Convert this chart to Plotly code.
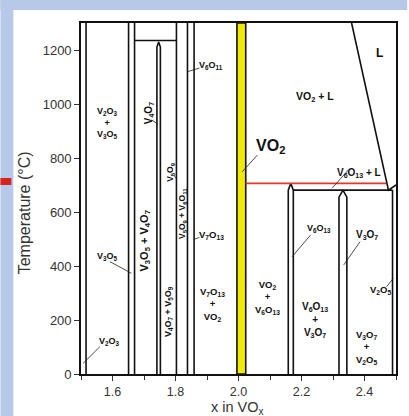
import plotly.graph_objects as go

# ---------------- data (composition x in VOx, temperature in °C) ----------------
x_range = [1.5, 2.5]
t_range = [0, 1300]
x_tickvals = [1.6, 1.8, 2.0, 2.2, 2.4]
t_tickvals = [0, 200, 400, 600, 800, 1000, 1200]

# full-height single-phase boundary lines
full_lines_x = [1.516, 1.651, 1.670, 1.803, 1.838, 1.859]

# line compounds with pointed tops: left x, right x, shoulder T, apex T
spike_names = ["V4O7", "V6O13", "V3O7"]
spike_left = [1.741, 2.158, 2.319]
spike_right = [1.752, 2.174, 2.344]
spike_shoulder = [1211, 681, 655]
spike_apex = [1230, 706, 681]

# horizontal invariant lines: x start, x end, T
hline_x0 = [1.670, 2.174]
hline_x1 = [1.803, 2.489]
hline_t = [1235, 681]

# peritectic (red) line
red_x = [2.023, 2.469]
red_t = [706, 706]

# liquidus
liq_x = [2.359, 2.476, 2.500]
liq_t = [1300, 681, 700]

# V2O5 solvus line
v2o5_x = [2.489, 2.489]
v2o5_t = [0, 681]

# VO2 single phase band
vo2_band = [1.995, 2.023]

# labels: text, x, T, angle, size
label_text = [
    "L", "VO<sub>2</sub> + L", "VO<sub>2</sub>", "V<sub>6</sub>O<sub>13</sub> + L",
    "V<sub>2</sub>O<sub>3</sub><br>+<br>V<sub>3</sub>O<sub>5</sub>",
    "V<sub>3</sub>O<sub>5</sub>", "V<sub>2</sub>O<sub>3</sub>",
    "V<sub>4</sub>O<sub>7</sub>", "V<sub>3</sub>O<sub>5</sub> + V<sub>4</sub>O<sub>7</sub>",
    "V<sub>5</sub>O<sub>9</sub>", "V<sub>5</sub>O<sub>9</sub> + V<sub>6</sub>O<sub>11</sub>",
    "V<sub>4</sub>O<sub>7</sub> + V<sub>5</sub>O<sub>9</sub>",
    "V<sub>6</sub>O<sub>11</sub>", "V<sub>7</sub>O<sub>13</sub>",
    "V<sub>7</sub>O<sub>13</sub><br>+<br>VO<sub>2</sub>",
    "VO<sub>2</sub><br>+<br>V<sub>6</sub>O<sub>13</sub>",
    "V<sub>6</sub>O<sub>13</sub>", "V<sub>3</sub>O<sub>7</sub>",
    "V<sub>6</sub>O<sub>13</sub><br>+<br>V<sub>3</sub>O<sub>7</sub>",
    "V<sub>2</sub>O<sub>5</sub>",
    "V<sub>3</sub>O<sub>7</sub><br>+<br>V<sub>2</sub>O<sub>5</sub>",
]
label_x = [2.449, 2.244, 2.102, 2.381, 1.585, 1.585, 1.592, 1.716, 1.702, 1.786,
           1.8205, 1.776, 1.913, 1.913, 1.918, 2.091, 2.255, 2.407, 2.244, 2.4495, 2.407]
label_t = [1188, 1027, 842, 743, 930, 434, 120, 966, 493, 749,
           596, 233, 1144, 515, 256, 285, 540, 515, 200, 311, 100]
label_angle = [0, 0, 0, 0, 0, 0, 0, -90, -90, -90, -90, -90, 0, 0, 0, 0, 0, 0, 0, 0, 0]
label_size = [12, 10.5, 16, 10, 9, 9, 9, 10, 11, 8.5, 8.5, 9, 9, 9.5, 9.5, 9.5, 9, 10, 10, 9.5, 9.5]

# pointer lines: (x0, T0) -> (x1, T1)
ptr_x0 = [1.592, 1.560, 1.724, 1.794, 1.876, 1.876, 2.060, 2.349, 2.229, 2.386, 2.470]
ptr_t0 = [416, 101, 941, 737, 1133, 506, 811, 756, 515, 490, 323]
ptr_x1 = [1.660, 1.507, 1.744, 1.804, 1.839, 1.860, 2.012, 2.297, 2.170, 2.334, 2.491]
ptr_t1 = [373, 40, 926, 722, 1120, 499, 749, 688, 434, 404, 354]

# ---------------- figure ----------------
BLACK = "#111111"
LW = 1.6
FONT = "Liberation Sans, Arial"
fig = go.Figure()

# VO2 band
fig.add_trace(go.Scatter(
    x=[vo2_band[0], vo2_band[1], vo2_band[1], vo2_band[0], vo2_band[0]],
    y=[t_range[0], t_range[0], t_range[1], t_range[1], t_range[0]],
    mode="lines", fill="toself", fillcolor="#f2e800",
    line=dict(color=BLACK, width=LW), hoverinfo="skip", showlegend=False))

# full-height lines, invariant lines, solvus and liquidus
xs, ys = [], []
for xv in full_lines_x:
    xs += [xv, xv, None]
    ys += [t_range[0], t_range[1], None]
for a, b, t in zip(hline_x0, hline_x1, hline_t):
    xs += [a, b, None]
    ys += [t, t, None]
xs += v2o5_x + [None]
ys += v2o5_t + [None]
xs += liq_x + [None]
ys += liq_t + [None]
fig.add_trace(go.Scatter(x=xs, y=ys, mode="lines", line=dict(color=BLACK, width=LW),
                         hoverinfo="skip", showlegend=False))

# spikes (line compounds with congruent tops)
for l, r, s, a in zip(spike_left, spike_right, spike_shoulder, spike_apex):
    fig.add_trace(go.Scatter(
        x=[l, l, (l + r) / 2, r, r], y=[0, s, a, s, 0], mode="lines",
        fill="toself", fillcolor="white",
        line=dict(color=BLACK, width=LW), hoverinfo="skip", showlegend=False))

# red line
fig.add_trace(go.Scatter(x=red_x, y=red_t, mode="lines", line=dict(color="#e8322a", width=1.6),
                         hoverinfo="skip", showlegend=False))

# pointers
px, pt = [], []
for a, b, c, d in zip(ptr_x0, ptr_t0, ptr_x1, ptr_t1):
    px += [a, c, None]
    pt += [b, d, None]
fig.add_trace(go.Scatter(x=px, y=pt, mode="lines", line=dict(color="#222", width=0.8),
                         hoverinfo="skip", showlegend=False))

for txt, xv, tv, ang, sz in zip(label_text, label_x, label_t, label_angle, label_size):
    fig.add_annotation(x=xv, y=tv, text="<b>" + txt + "</b>", showarrow=False,
                       textangle=ang, xanchor="center", yanchor="middle",
                       font=dict(family=FONT, size=sz, color="#111"))


def pxx(p):
    return (p - 81) / 316.7


def pxy(p):
    return 1 - (p - 23) / 351


# axis titles
fig.add_annotation(x=pxx(24), y=pxy(213), xref="paper", yref="paper",
                   text="Temperature (°C)", textangle=-90, showarrow=False,
                   xanchor="center", yanchor="middle",
                   font=dict(family=FONT, size=16, color="#333"))
fig.add_annotation(x=pxx(238), y=pxy(407.5), xref="paper", yref="paper",
                   text="x in VO<sub>x</sub>", showarrow=False, borderpad=0,
                   xanchor="center", yanchor="middle",
                   font=dict(family=FONT, size=14.5, color="#333"))

# slide background decorations
fig.add_shape(type="rect", xref="paper", yref="paper", x0=pxx(0), x1=pxx(13), y0=pxy(416), y1=pxy(0),
              fillcolor="#b7c9e8", line=dict(width=0), layer="below")
fig.add_shape(type="rect", xref="paper", yref="paper", x0=pxx(0), x1=pxx(409), y0=pxy(10), y1=pxy(0),
              fillcolor="#b7c9e8", line=dict(width=0), layer="below")
fig.add_shape(type="rect", xref="paper", yref="paper", x0=pxx(0), x1=pxx(11), y0=pxy(185), y1=pxy(178),
              fillcolor="#d8201c", line=dict(width=0), layer="below")

axis_common = dict(showgrid=False, zeroline=False, showline=True, mirror=True,
                   linecolor=BLACK, linewidth=LW, ticks="outside", ticklen=5,
                   tickcolor="#333")
fig.update_xaxes(range=x_range, tickvals=x_tickvals, tickformat=".1f",
                 tickfont=dict(family=FONT, size=12.5, color="#333"),
                 minor=dict(dtick=0.1, tick0=1.5, ticks="outside", ticklen=4, tickcolor="#333"),
                 **axis_common)
fig.update_yaxes(range=t_range, tickvals=t_tickvals,
                 tickfont=dict(family=FONT, size=13, color="#333"), **axis_common)

fig.update_layout(width=409, height=416, margin=dict(l=81, r=11, t=23, b=42),
                  paper_bgcolor="white", plot_bgcolor="white", showlegend=False)
fig.write_html("out.html", config={"displayModeBar": False},
               post_script="document.body.style.margin='0px';")
